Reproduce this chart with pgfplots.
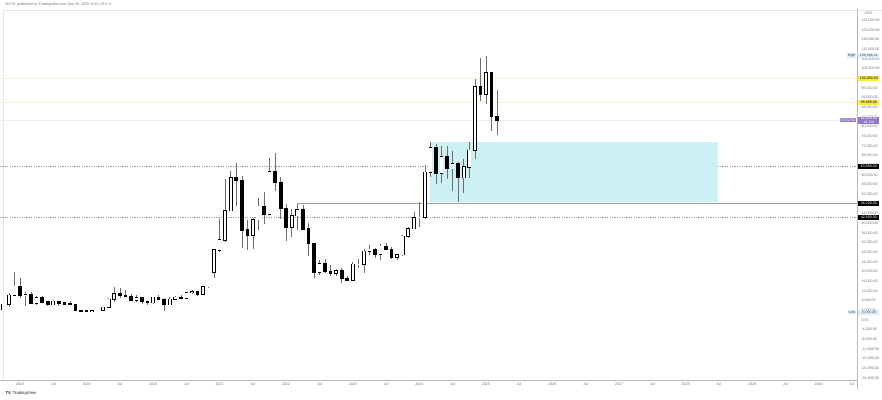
\documentclass[border=0pt]{standalone}
\usepackage{pgfplots}
\usepackage{pgfplotstable}
\pgfplotsset{compat=1.18}
\usepackage{fontspec}
\setmainfont{Liberation Sans}
\definecolor{boxcyan}{RGB}{205,240,244}
\definecolor{tvyellow}{RGB}{255,235,59}
\definecolor{paleyellow}{RGB}{250,244,205}
\definecolor{tvpurple}{RGB}{149,117,205}
\definecolor{tvblue}{RGB}{220,234,250}
\definecolor{axgray}{RGB}{110,113,124}
\definecolor{wick}{RGB}{110,110,110}
\newcommand{\tf}{\fontsize{3.6}{4.2}\selectfont}
% month index (Jan 2018 = 0), open, high, low, close
\pgfplotstableread{
m o h l c
-3 4360 6470 4100 6450
-2 6450 11400 5500 10300
-1 10300 19800 9900 13900
1 10200 11800 5900 10350
3 6930 9750 6430 9240
6 6390 8500 6070 7730
13 3460 4200 3380 3820
14 3820 4120 3730 4100
15 4100 5600 4070 5350
16 5350 9100 5330 8550
17 8550 13880 7450 10820
21 8300 10540 7300 9150
24 7200 9580 6850 9350
27 6410 9470 6150 8630
28 8630 10080 8110 9450
30 9140 11450 8980 11330
31 11330 12470 10950 11650
33 10780 14100 10380 13800
34 13800 19880 13200 19700
35 19700 29300 17600 28990
36 28990 41950 28130 33140
37 33140 58350 32300 45200
38 45200 61800 45000 58800
42 35000 42300 29300 41500
43 41500 50500 37300 47100
45 43800 67000 43300 61300
49 38500 45800 34300 43200
50 43200 48200 37200 45500
54 19800 24700 18800 23300
57 19430 21100 18200 20500
60 16550 23950 16500 23130
61 23130 25250 21400 23150
62 23150 29200 19550 28480
63 28480 31000 26950 29250
65 27200 31450 24800 30470
68 25940 27500 24900 26970
69 26970 35200 26550 34650
70 34650 38400 34100 37720
71 37720 44700 37600 42280
72 42280 48970 38500 42580
73 42580 64000 41900 61130
74 61130 73800 59000 71300
76 60650 71950 56550 67500
78 62700 70000 53500 64600
80 58970 66500 52550 63300
81 63300 73600 58900 70200
82 70200 99800 66800 96400
84 93400 109350 89200 102400
}\up
\pgfplotstableread{
m o h l c
0 13900 17200 9200 10200
2 10350 11700 6600 6930
4 9240 10000 7050 7500
5 7500 7780 5760 6390
7 7730 7760 5880 7030
8 7030 7410 6100 6630
9 6630 7680 6200 6370
10 6370 6600 3650 4040
11 4040 4330 3156 3740
12 3740 4100 3350 3460
18 10820 13200 9100 10080
19 10080 12330 9350 9600
20 9600 10950 7750 8300
22 9150 9270 6520 7570
23 7570 7750 6430 7200
25 9350 10500 8450 8540
26 8540 9190 3800 6410
29 9450 10380 8900 9140
32 11650 12090 9880 10780
39 58800 64850 47000 57700
40 57700 59600 30000 37300
41 37300 41300 28800 35000
44 47100 52900 39600 43800
46 61300 69000 53300 57000
47 57000 59100 42000 46300
48 46300 48000 32900 38500
51 45500 47400 37600 37700
52 37700 40000 26700 31800
53 31800 31900 17600 19800
55 23300 25200 19600 20050
56 20050 22800 18150 19430
58 20500 21500 15500 17170
59 17170 18400 16300 16550
64 29250 29850 25800 27200
66 30470 31800 28900 29230
67 29230 30200 25300 25940
75 71300 72800 56500 60650
77 67500 71950 58400 62700
79 64600 65600 49000 58970
83 96400 108300 90500 93400
85 102400 102500 78200 84350
86 84350 95000 76600 82650
}\dn
\begin{document}
\begin{tikzpicture}
\useasboundingbox (0,0) rectangle (882pt,399pt);
\fill[white] (0,0) rectangle (882pt,399pt);
\draw[gray!20, line width=0.4pt] (3pt,19pt) -- (3pt,389pt) -- (882pt,389pt);
\begin{axis}[at={(0pt,19pt)}, anchor=south west, scale only axis,
  width=857pt, height=371pt,
  xmin=-3.6, xmax=150.9, ymin=-24800, ymax=128700,
  axis x line*=bottom, axis y line*=right,
  axis line style={gray!55, line width=0.6pt},
  xtick={0,6,12,18,24,30,36,42,48,54,60,66,72,78,84,90,96,102,108,114,120,126,132,138,144,150},
  xticklabels={2018,Jul,2019,Jul,2020,Jul,2021,Jul,2022,Jul,2023,Jul,2024,Jul,2025,Jul,2026,Jul,2027,Jul,2028,Jul,2029,Jul,2030,Jul},
  ytick={-24000,-20000,-16000,-12000,-8000,-4000,0,4000,8000,12000,16000,20000,24000,28000,32000,36000,40000,44000,48000,52000,56000,60000,64000,68000,72000,76000,80000,84000,88000,92000,96000,100000,104000,108000,112000,116000,120000,124000},
  scaled y ticks=false,
  major tick length=0pt, tick style={draw=none},
  ticklabel style={font=\tf, text=axgray},
  xticklabel style={yshift=1pt},
  yticklabel style={xshift=1pt},
  /pgf/number format/.cd, fixed, fixed zerofill, precision=2, 1000 sep={,}, assume math mode=true,
  /pgfplots/.cd,
  clip=false,
  error bars/error mark=none,
  candle/.style={draw=none, mark=none, error bars/.cd, y dir=plus, y explicit},
]
% horizontal levels
\addplot[draw=paleyellow, line width=0.5pt] coordinates {(-3.6,100000) (150.9,100000)};
\addplot[draw=paleyellow, line width=0.5pt] coordinates {(-3.6,90000) (150.9,90000)};
\addplot[draw=tvpurple!15, line width=0.5pt] coordinates {(-3.6,82650) (150.9,82650)};
\addplot[draw=gray!80, line width=0.5pt, dash pattern=on 1.2pt off 1.2pt] coordinates {(-3.6,63500) (150.9,63500)};
\addplot[draw=gray!80, line width=0.5pt, dash pattern=on 1.2pt off 1.2pt] coordinates {(-3.6,42500) (150.9,42500)};
\addplot[draw=gray!75, line width=0.7pt] coordinates {(50,48200) (150.9,48200)};
% zone
\addplot[fill=boxcyan, draw=none] coordinates {(74,49000) (125.8,49000) (125.8,73800) (74,73800)} -- cycle;
% wicks
\addplot[candle, error bar style={draw=wick, line width=0.6pt}]
  table[x=m, y=l, y error plus expr=\thisrow{h}-\thisrow{l}] {\up};
\addplot[candle, error bar style={draw=wick, line width=0.6pt}]
  table[x=m, y=l, y error plus expr=\thisrow{h}-\thisrow{l}] {\dn};
% bodies: outline (black), then white inside for rising months
\addplot[candle, error bar style={draw=black, line width=3.66pt}]
  table[x=m, y expr=\thisrow{o}-250, y error plus expr=\thisrow{c}-\thisrow{o}+500] {\up};
\addplot[candle, error bar style={draw=white, line width=2.46pt}]
  table[x=m, y=o, y error plus expr=\thisrow{c}-\thisrow{o}] {\up};
\addplot[candle, error bar style={draw=black, line width=3.66pt}]
  table[x=m, y expr=\thisrow{c}-250, y error plus expr=\thisrow{o}-\thisrow{c}+500] {\dn};
\coordinate (pHigh) at (axis cs:150.9,109356);
\coordinate (p100) at (axis cs:150.9,100000);
\coordinate (p90) at (axis cs:150.9,90000);
\coordinate (pCur) at (axis cs:150.9,82650);
\coordinate (p63) at (axis cs:150.9,63500);
\coordinate (p48) at (axis cs:150.9,48200);
\coordinate (p42) at (axis cs:150.9,42500);
\coordinate (pLow) at (axis cs:150.9,3156);
\end{axis}
\draw[gray!55, line width=0.6pt] (857pt,19pt) -- (857pt,10pt);
\tikzset{lab/.style={anchor=west, font=\tf, inner sep=0.7pt, minimum width=21pt, xshift=1.2pt}}
\node[lab, fill=tvblue, text=black!70] at (pHigh) {109,356.21};
\node[anchor=east, font=\tf, fill=tvblue, text=black!70, inner sep=0.7pt, xshift=-0.8pt] at (pHigh) {High};
\node[lab, fill=tvyellow, text=black] at (p100) {100,000.00};
\node[lab, fill=tvyellow, text=black] at (p90) {90,000.00};
\node[lab, fill=tvpurple, text=white, align=center] at (pCur) {82,650.00\\[-0.6pt]1d 12h};
\node[anchor=east, font=\tf, fill=tvpurple, text=white, inner sep=0.7pt, xshift=-0.8pt] at (pCur) {BTCUSD};
\node[lab, fill=black, text=white] at (p63) {63,500.00};
\node[lab, fill=black, text=white] at (p48) {48,200.00};
\node[lab, fill=black, text=white] at (p42) {42,500.00};
\node[lab, fill=tvblue, text=black!70] at (pLow) {3,156.26};
\node[anchor=east, font=\tf, fill=tvblue, text=black!70, inner sep=0.7pt, xshift=-0.8pt] at (pLow) {Low};
\node[anchor=west, font=\tf, text=axgray] at (861pt,386pt) {USD};
\node[anchor=west, font=\tf, text=axgray] at (2pt,394pt) {NXYS, published on TradingView.com, Mar 30, 2025 11:51 UTC+2};
\node[anchor=west, font=\fontsize{4.2}{5}\selectfont, text=black!85] at (2pt,6pt) {\textbf{TV}\, TradingView};
\end{tikzpicture}
\end{document}
